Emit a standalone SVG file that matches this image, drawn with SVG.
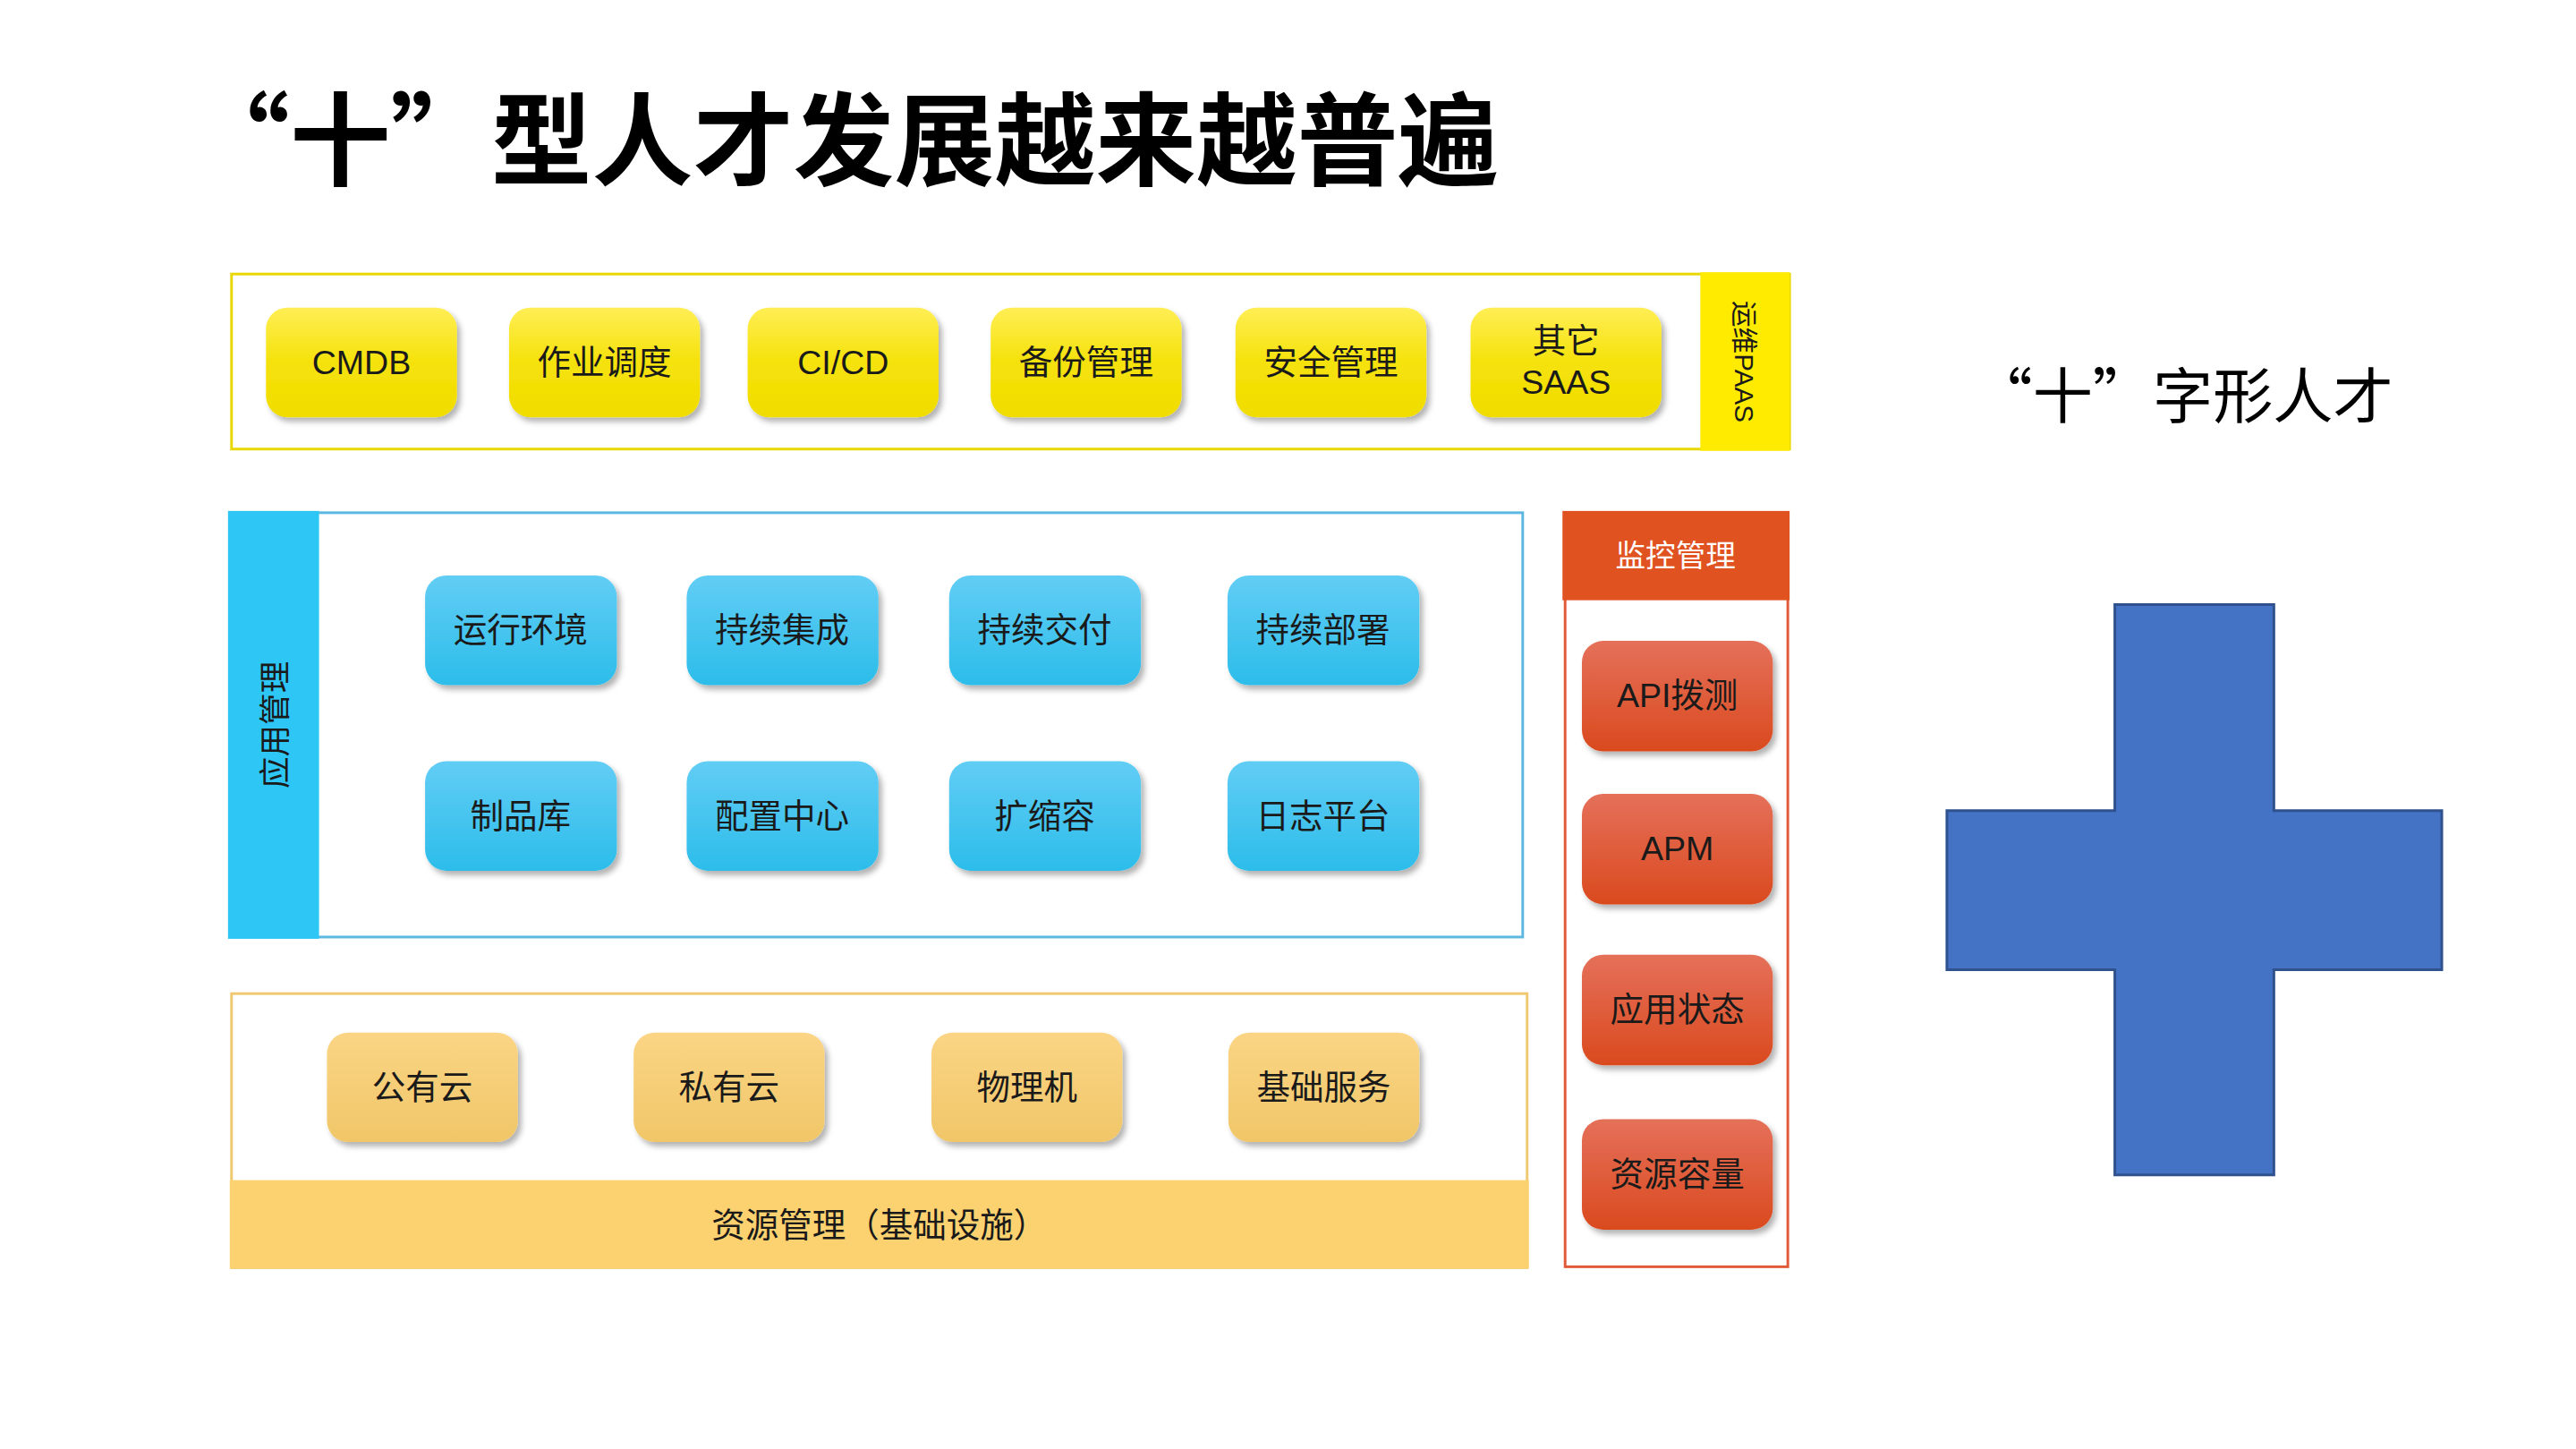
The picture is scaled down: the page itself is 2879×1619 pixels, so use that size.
<svg xmlns="http://www.w3.org/2000/svg" width="2879" height="1619" viewBox="0 0 2879 1619">
<defs>
<linearGradient id="gy" x1="0" y1="0" x2="0" y2="1"><stop offset="0" stop-color="#FFEE55"/><stop offset="0.5" stop-color="#F5E20A"/><stop offset="1" stop-color="#F0DC00"/></linearGradient>
<linearGradient id="gb" x1="0" y1="0" x2="0" y2="1"><stop offset="0" stop-color="#62CDF5"/><stop offset="1" stop-color="#2CBDEA"/></linearGradient>
<linearGradient id="gr" x1="0" y1="0" x2="0" y2="1"><stop offset="0" stop-color="#E5705A"/><stop offset="1" stop-color="#DA4A1E"/></linearGradient>
<linearGradient id="go" x1="0" y1="0" x2="0" y2="1"><stop offset="0" stop-color="#FBD585"/><stop offset="1" stop-color="#F0C668"/></linearGradient>
<filter id="sh" x="-10%" y="-10%" width="130%" height="130%"><feDropShadow dx="4" dy="5" stdDeviation="3" flood-color="#000" flood-opacity="0.3"/></filter>
</defs>
<style>
text{font-family:"Liberation Sans","Noto Sans CJK SC",sans-serif;text-anchor:middle;dominant-baseline:central;fill:#1a1a1a}
.cjk{font-family:"Noto Sans CJK SC",sans-serif}
.b{font-size:38px}
.y{fill:url(#gy);filter:url(#sh)}
.bl{fill:url(#gb);filter:url(#sh)}
.r{fill:url(#gr);filter:url(#sh)}
.o{fill:url(#go);filter:url(#sh)}
</style>
<rect width="2879" height="1619" fill="#fff"/>
<g transform="scale(0.9877)">
<text class="cjk" x="214" y="150" style="text-anchor:start;font-size:114px;font-weight:bold;fill:#000">“十”型人才发展越来越普遍</text>
<text class="cjk" x="2470" y="443" style="font-size:68px;fill:#000">“十”字形人才</text>

<g id="paas">
<rect x="262" y="310" width="1763" height="198" fill="#fff" stroke="#E8D800" stroke-width="3"/>
<rect x="1924" y="308" width="101" height="202" fill="#FFEB00"/>
<text x="1974" y="409" transform="rotate(90 1974 409)" style="font-size:30px">运维PAAS</text>
</g>
<g id="p1"><rect class="y" x="301" y="348" width="216" height="124" rx="24"/><text class="b" x="409" y="410">CMDB</text></g>
<g id="p2"><rect class="y" x="576" y="348" width="216" height="124" rx="24"/><text class="b" x="684" y="410">作业调度</text></g>
<g id="p3"><rect class="y" x="846" y="348" width="216" height="124" rx="24"/><text class="b" x="954" y="410">CI/CD</text></g>
<g id="p4"><rect class="y" x="1121" y="348" width="216" height="124" rx="24"/><text class="b" x="1229" y="410">备份管理</text></g>
<g id="p5"><rect class="y" x="1398" y="348" width="216" height="124" rx="24"/><text class="b" x="1506" y="410">安全管理</text></g>
<g id="p6"><rect class="y" x="1664" y="348" width="216" height="124" rx="24"/><text class="b" x="1772" y="386">其它</text><text class="b" x="1772" y="432">SAAS</text></g>

<g id="app">
<rect x="260" y="580" width="1463" height="480" fill="#fff" stroke="#5CB8E0" stroke-width="3"/>
<rect x="258" y="578" width="103" height="484" fill="#2DC6F5"/>
<text x="312" y="820" transform="rotate(-90 312 820)" style="font-size:36px">应用管理</text>
</g>
<g id="a1"><rect class="bl" x="481" y="651" width="217" height="124" rx="24"/><text class="b" x="589" y="713">运行环境</text></g>
<g id="a2"><rect class="bl" x="777" y="651" width="217" height="124" rx="24"/><text class="b" x="885" y="713">持续集成</text></g>
<g id="a3"><rect class="bl" x="1074" y="651" width="217" height="124" rx="24"/><text class="b" x="1182" y="713">持续交付</text></g>
<g id="a4"><rect class="bl" x="1389" y="651" width="217" height="124" rx="24"/><text class="b" x="1497" y="713">持续部署</text></g>
<g id="a5"><rect class="bl" x="481" y="861" width="217" height="124" rx="24"/><text class="b" x="589" y="923">制品库</text></g>
<g id="a6"><rect class="bl" x="777" y="861" width="217" height="124" rx="24"/><text class="b" x="885" y="923">配置中心</text></g>
<g id="a7"><rect class="bl" x="1074" y="861" width="217" height="124" rx="24"/><text class="b" x="1182" y="923">扩缩容</text></g>
<g id="a8"><rect class="bl" x="1389" y="861" width="217" height="124" rx="24"/><text class="b" x="1497" y="923">日志平台</text></g>

<g id="mon">
<rect x="1771" y="580" width="252" height="853" fill="#fff" stroke="#E05A3A" stroke-width="3"/>
<rect x="1768" y="578" width="257" height="101" fill="#E05220"/>
<text x="1896" y="629" style="font-size:34px;fill:#fff">监控管理</text>
</g>
<g id="m1"><rect class="r" x="1790" y="725" width="216" height="125" rx="24"/><text class="b" x="1898" y="787">API拨测</text></g>
<g id="m2"><rect class="r" x="1790" y="898" width="216" height="125" rx="24"/><text class="b" x="1898" y="960">APM</text></g>
<g id="m3"><rect class="r" x="1790" y="1080" width="216" height="125" rx="24"/><text class="b" x="1898" y="1142">应用状态</text></g>
<g id="m4"><rect class="r" x="1790" y="1266" width="216" height="125" rx="24"/><text class="b" x="1898" y="1328">资源容量</text></g>

<g id="res">
<rect x="262" y="1124" width="1466" height="310" fill="#fff" stroke="#F0C870" stroke-width="3"/>
<rect x="260" y="1335" width="1470" height="100" fill="#FCD270"/>
<text x="995" y="1386" style="font-size:38px">资源管理（基础设施）</text>
</g>
<g id="r1"><rect class="o" x="370" y="1168" width="216" height="124" rx="24"/><text class="b" x="478" y="1230">公有云</text></g>
<g id="r2"><rect class="o" x="717" y="1168" width="216" height="124" rx="24"/><text class="b" x="825" y="1230">私有云</text></g>
<g id="r3"><rect class="o" x="1054" y="1168" width="216" height="124" rx="24"/><text class="b" x="1162" y="1230">物理机</text></g>
<g id="r4"><rect class="o" x="1390" y="1168" width="216" height="124" rx="24"/><text class="b" x="1498" y="1230">基础服务</text></g>

<g id="cross">
<path d="M2393 684H2573V917H2763V1097H2573V1329H2393V1097H2203V917H2393Z" fill="#4472C4" stroke="#2F528F" stroke-width="3"/>
</g>
<g id="connectors"/>
</g>
</svg>
